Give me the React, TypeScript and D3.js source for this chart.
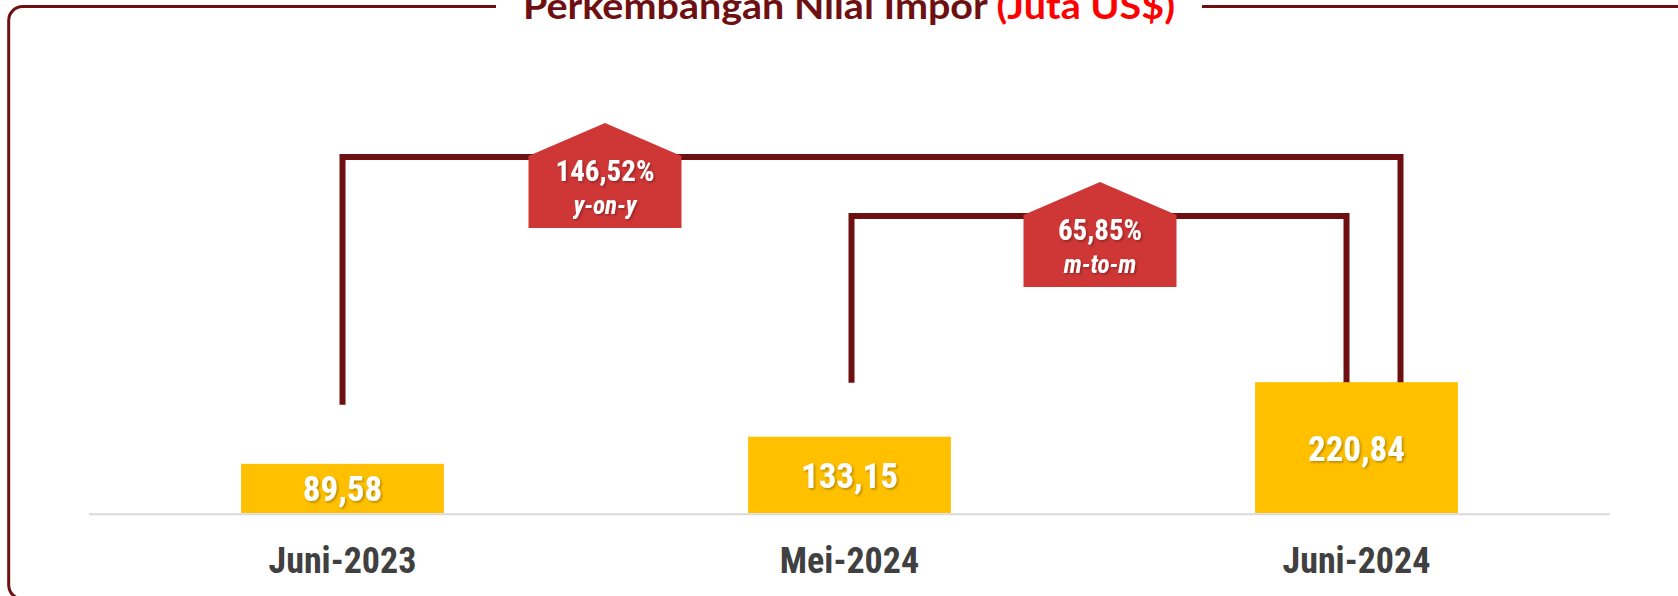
import React from 'react';
import * as d3 from 'd3';

// data
const periods = ['Juni-2023', 'Mei-2024', 'Juni-2024'];
const values = [89.58, 133.15, 220.84];
const valueLabels = ['89,58', '133,15', '220,84'];

const changeFrom = [0, 1];
const changeTo = [2, 2];
const changePct = ['146,52%', '65,85%'];
const changeKind = ['y-on-y', 'm-to-m'];

const W = 1678;
const H = 596;
const maroon = '#6e1012';
const calloutRed = '#cf3636';
const narrow = '"Liberation Sans Narrow", "Arial Narrow", "Roboto Condensed", Roboto, sans-serif';

// bracket layout (level of top line, offsets of the legs from bar centres)
const bracketTop = [157, 216];
const legFromDx = [0, 2];
const legToDx = [44, -10];
const legFromGap = [59, 54];
const boxDx = [9, -3];

export default function App() {
  const x = d3.scaleBand<string>()
    .domain(periods)
    .range([89, 1610])
    .paddingInner(0.6)
    .paddingOuter(0.3);

  const y = d3.scaleLinear().domain([9, 250]).range([514, 364]);

  const cx = (i: number) => (x(periods[i]) as number) + x.bandwidth() / 2;

  const boxW = 153;
  const roof = 33;
  const body = 72;

  return (
    <svg width={W} height={H} style={{ position: 'absolute', left: 0, top: 0, background: '#fff' }}>
      <defs>
        <filter id="shadow" x="-20%" y="-20%" width="140%" height="140%">
          <feDropShadow dx="1.5" dy="1.5" stdDeviation="1" floodColor="#000" floodOpacity="0.3" />
        </filter>
      </defs>

      {/* frame, its bottom edge sits just below the picture */}
      <rect x={8.7} y={6.5} width={1720} height={592.5} rx={14} fill="none" stroke={maroon} strokeWidth={3} />
      <rect x={496} y={0} width={706} height={14} fill="#fff" />
      <text
        x={849}
        y={18.5}
        textAnchor="middle"
        fontFamily="Lato, 'Open Sans', sans-serif"
        fontWeight="bold"
        fontSize={36}
        textLength={652}
        lengthAdjust="spacingAndGlyphs"
        fill={maroon}
      >
        Perkembangan Nilai Impor <tspan fill="#ff0000">(Juta US$)</tspan>
      </text>

      {/* axis line */}
      <line x1={89} x2={1610} y1={514.3} y2={514.3} stroke="#d9d9d9" strokeWidth={2} />

      {/* bars */}
      {values.map((v, i) => (
        <g key={periods[i]}>
          <rect
            x={x(periods[i])}
            y={y(v)}
            width={x.bandwidth()}
            height={y(y.domain()[0]) - y(v) - 1}
            fill="#ffc000"
          />
          <text
            x={cx(i)}
            y={(y(v) + 513) / 2 + 13}
            textAnchor="middle"
            fontFamily={narrow}
            fontWeight="bold"
            fontSize={35}
            fill="#fff"
            filter="url(#shadow)"
          >
            {valueLabels[i]}
          </text>
          <text
            x={cx(i)}
            y={573}
            textAnchor="middle"
            fontFamily={narrow}
            fontWeight="bold"
            fontSize={36}
            fill="#404040"
          >
            {periods[i]}
          </text>
        </g>
      ))}

      {/* brackets and callouts */}
      {changePct.map((pct, k) => {
        const xa = cx(changeFrom[k]) + legFromDx[k];
        const xb = cx(changeTo[k]) + legToDx[k];
        const ya = y(values[changeFrom[k]]) - legFromGap[k];
        const yb = y(values[changeTo[k]]);
        const top = bracketTop[k];
        const mid = (cx(changeFrom[k]) + cx(changeFrom[k] + 1)) / 2 + boxDx[k];
        const bTop = top - 1;
        const bBot = bTop + body;
        const shape = d3.path();
        shape.moveTo(mid - boxW / 2, bBot);
        shape.lineTo(mid - boxW / 2, bTop);
        shape.lineTo(mid, bTop - roof);
        shape.lineTo(mid + boxW / 2, bTop);
        shape.lineTo(mid + boxW / 2, bBot);
        shape.closePath();
        return (
          <g key={pct}>
            <path
              d={`M${xa},${ya}V${top}H${xb}V${yb}`}
              fill="none"
              stroke={maroon}
              strokeWidth={6}
              strokeLinejoin="miter"
            />
            <path d={shape.toString()} fill={calloutRed} />
            <text
              x={mid}
              y={bBot - 47}
              textAnchor="middle"
              fontFamily={narrow}
              fontWeight="bold"
              fontSize={29}
              fill="#fff"
              filter="url(#shadow)"
            >
              {pct}
            </text>
            <text
              x={mid}
              y={bBot - 14}
              textAnchor="middle"
              fontFamily={narrow}
              fontWeight="bold"
              fontStyle="italic"
              fontSize={25}
              fill="#fff"
              filter="url(#shadow)"
            >
              {changeKind[k]}
            </text>
          </g>
        );
      })}
    </svg>
  );
}
